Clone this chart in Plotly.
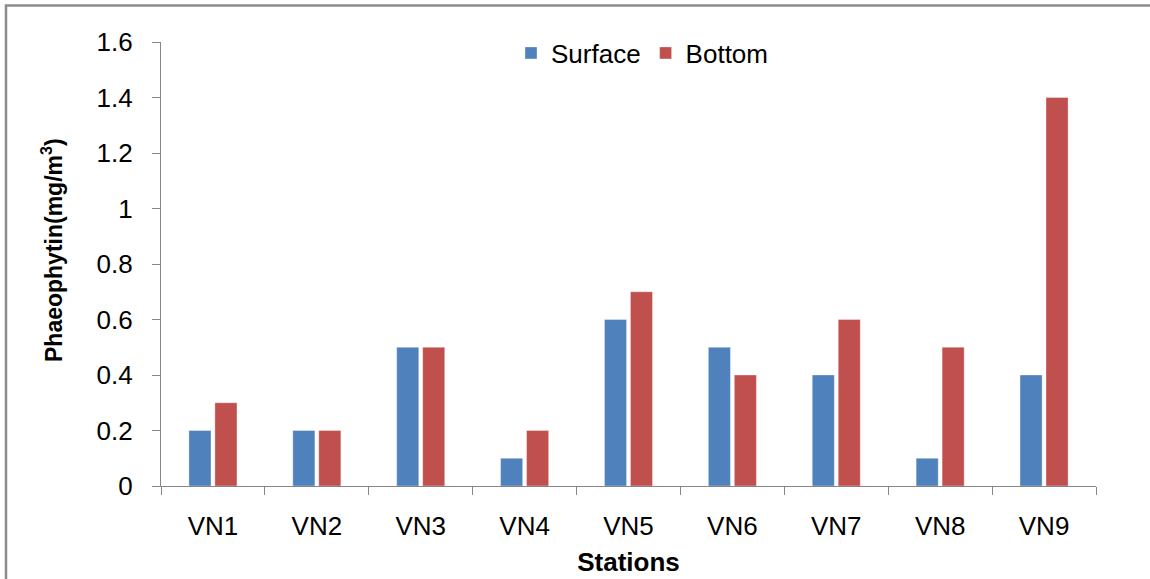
import plotly.graph_objects as go

# Phaeophytin concentration at each station, surface vs bottom water
stations = ["VN1", "VN2", "VN3", "VN4", "VN5", "VN6", "VN7", "VN8", "VN9"]
surface = [0.2, 0.2, 0.5, 0.1, 0.6, 0.5, 0.4, 0.1, 0.4]
bottom = [0.3, 0.2, 0.5, 0.2, 0.7, 0.4, 0.6, 0.5, 1.4]

W, H = 1150, 579
ML, MR, MT, MB = 161, 54, 42, 93
AXIS = "#868686"
FONT = "Liberation Sans, Arial, sans-serif"

fig = go.Figure()
fig.add_trace(go.Bar(
    name="Surface", x=stations, y=surface,
    marker=dict(color="#4F81BD", line=dict(color="rgba(255,255,255,0.35)", width=1)),
))
fig.add_trace(go.Bar(
    name="Bottom", x=stations, y=bottom,
    marker=dict(color="#C0504D", line=dict(color="rgba(255,255,255,0.35)", width=1)),
))

pw = W - ML - MR
ph = H - MT - MB

def px_to_paper_x(px):
    return (px - ML) / pw

def px_to_paper_y(py):
    return (H - MB - py) / ph

fig.update_layout(
    width=W, height=H,
    margin=dict(l=ML, r=MR, t=MT, b=MB),
    paper_bgcolor="white", plot_bgcolor="white",
    font=dict(family=FONT, size=26, color="black"),
    barmode="group", bargap=0.5, bargroupgap=0.15,
    showlegend=True,
    legend=dict(
        orientation="h", x=px_to_paper_x(511), y=px_to_paper_y(53),
        xanchor="left", yanchor="middle",
        font=dict(size=26), bgcolor="rgba(0,0,0,0)", itemwidth=30,
    ),
    xaxis=dict(
        showline=True, linecolor=AXIS, linewidth=1.3,
        ticks="outside", tickson="boundaries", ticklen=8, tickcolor=AXIS, tickwidth=1.3,
        ticklabelstandoff=17, automargin=False,
        title=dict(text="<b>Stations</b>", font=dict(size=26), standoff=12),
        showgrid=False, zeroline=False,
    ),
    yaxis=dict(
        range=[0, 1.6], dtick=0.2, tick0=0,
        showline=True, linecolor=AXIS, linewidth=1.3,
        ticks="outside", ticklen=8, tickcolor=AXIS, tickwidth=1.3,
        ticklabelstandoff=14, automargin=False,
        showgrid=False, zeroline=False,
    ),
    annotations=[dict(
        text="<b>Phaeophytin(mg/m<sup>3</sup>)</b>", textangle=-90,
        xref="paper", yref="paper", x=px_to_paper_x(52), y=px_to_paper_y(250),
        xanchor="center", yanchor="middle", showarrow=False,
        font=dict(size=23, color="black"),
    )],
    shapes=[dict(
        type="rect", xref="paper", yref="paper",
        x0=px_to_paper_x(6), x1=px_to_paper_x(1170),
        y0=px_to_paper_y(600), y1=px_to_paper_y(5.5),
        line=dict(color="#8C8C8C", width=2.5), fillcolor="rgba(0,0,0,0)", layer="below",
    )],
)

fig.write_html("out.html")
